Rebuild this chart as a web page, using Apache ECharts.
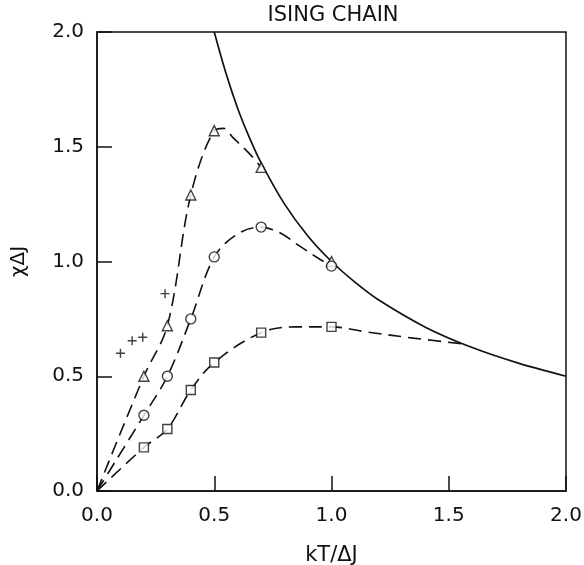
<!DOCTYPE html>
<html>
<head>
<meta charset="utf-8">
<script src="https://cdn.jsdelivr.net/npm/echarts@6/dist/echarts.min.js"></script>
<style>html,body{margin:0;padding:0;background:#fff;}#c{width:584px;height:565px;}</style>
</head>
<body>
<div id="c"></div>
<script>
// Measured points (kT/ΔJ, χΔJ)
const triPts   = [[0.2,0.50],[0.3,0.72],[0.4,1.29],[0.5,1.57],[0.7,1.41],[1.0,1.00]];
const circPts  = [[0.2,0.33],[0.3,0.50],[0.4,0.75],[0.5,1.02],[0.7,1.15],[1.0,0.98]];
const sqPts    = [[0.2,0.19],[0.3,0.27],[0.4,0.44],[0.5,0.56],[0.7,0.69],[1.0,0.715]];
const plusPts  = [[0.10,0.60],[0.15,0.655],[0.195,0.67],[0.29,0.86]];
// Dashed guide curves
const triFit   = [[0,0],[0.2,0.50],[0.3,0.72],[0.4,1.29],[0.5,1.57],[0.54,1.58],[0.58,1.54],[0.65,1.47],[0.7,1.41]];
const circFit  = [[0,0],[0.2,0.33],[0.3,0.50],[0.4,0.75],[0.5,1.02],[0.6,1.12],[0.7,1.15],[0.78,1.125],[0.86,1.07],[0.95,1.01],[1.0,0.98]];
const sqFit    = [[0,0],[0.2,0.19],[0.3,0.27],[0.4,0.44],[0.5,0.56],[0.7,0.69],[0.85,0.715],[1.0,0.715],[1.15,0.693],[1.35,0.666],[1.57,0.64]];
// Solid high-temperature curve
const curieCurve = [[0.5,2.0],[0.55,1.82],[0.6,1.667],[0.65,1.54],[0.7,1.43],[0.8,1.25],[0.9,1.11],[1.0,1.0],[1.1,0.91],[1.2,0.833],[1.4,0.714],[1.6,0.625],[1.8,0.556],[2.0,0.5]];
const xTicks = [0, 0.5, 1.0, 1.5, 2.0];
const yTicks = [0, 0.5, 1.0, 1.5, 2.0];
const titleText = 'ISING CHAIN';
const xName = 'kT/ΔJ';
const yName = 'χΔJ';

const ink = '#111';
const font = 'DejaVu Sans';
const chart = echarts.init(document.getElementById('c'), null, {renderer:'canvas'});
const dash = {type:[13,7], width:1.6, color:ink};
function fitSeries(d){
  return {type:'line', data:d, smooth:0.35, symbol:'none', lineStyle:dash, z:2, silent:true, clip:true};
}
function markSeries(d, sym, size){
  return {type:'scatter', data:d, symbol:sym, symbolSize:size,
    itemStyle:{color:'#fff', borderColor:ink, borderWidth:1.4}, z:5, silent:true};
}
chart.setOption({
  animation:false,
  backgroundColor:'#fff',
  grid:{left:97, right:18, top:32, bottom:74, outerBoundsMode:'none', containLabel:false,
    show:true, borderColor:ink, borderWidth:1.5, backgroundColor:'transparent'},
  graphic:[{type:'text', x:333, y:16, style:{text:titleText, font:'21px "DejaVu Sans"', fill:ink, align:'center', verticalAlign:'middle'}}],
  xAxis:{type:'value', min:0, max:2, interval:0.5,
    name:xName, nameLocation:'middle', nameGap:54,
    nameTextStyle:{fontFamily:font, fontSize:21, color:ink},
    axisLine:{lineStyle:{color:ink, width:1.5}},
    axisTick:{inside:true, length:15, lineStyle:{color:ink, width:1.5}},
    axisLabel:{fontFamily:font, fontSize:20, color:ink, margin:15, formatter:v=>v.toFixed(1)},
    splitLine:{show:false}},
  yAxis:{type:'value', min:0, max:2, interval:0.5,
    name:yName, nameLocation:'middle', nameGap:68, nameRotate:90,
    nameTextStyle:{fontFamily:font, fontSize:20, color:ink},
    axisLine:{lineStyle:{color:ink, width:1.5}},
    axisTick:{inside:true, length:15, lineStyle:{color:ink, width:1.5}},
    axisLabel:{fontFamily:font, fontSize:20, color:ink, margin:13, formatter:v=>v.toFixed(1)},
    splitLine:{show:false}},
  series:[
    {type:'line', data:curieCurve, smooth:0.3, symbol:'none', lineStyle:{color:ink, width:1.7}, z:3, silent:true},
    fitSeries(triFit), fitSeries(circFit), fitSeries(sqFit),
    markSeries(triPts, 'triangle', 10),
    markSeries(circPts, 'circle', 10),
    markSeries(sqPts, 'rect', 9),
    {type:'scatter', data:plusPts, symbol:'path://M-0.8,-5H0.8V-0.8H5V0.8H0.8V5H-0.8V0.8H-5V-0.8H-0.8Z', symbolSize:9,
      itemStyle:{color:ink}, z:5, silent:true}
  ]
});
</script>
</body>
</html>
